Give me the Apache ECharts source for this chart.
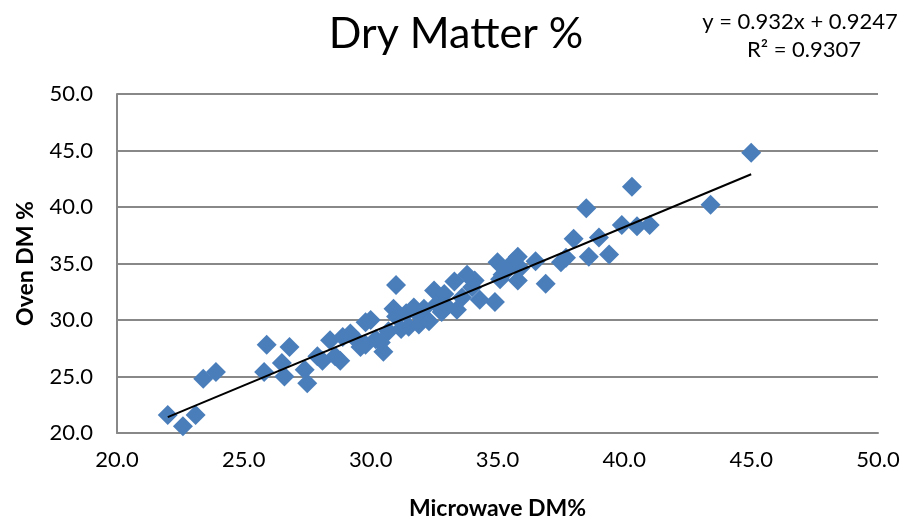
<!DOCTYPE html>
<html>
<head>
<meta charset="utf-8">
<script src="https://cdn.jsdelivr.net/npm/echarts@6/dist/echarts.min.js"></script>
<style>
html,body{margin:0;padding:0;background:#fff;}
#c{width:908px;height:526px;}
</style>
</head>
<body>
<div id="c"></div>
<script>
var microwaveDM = [22.0,22.6,23.1,23.4,23.9,25.8,25.9,26.5,26.6,26.8,27.4,27.5,27.9,28.1,28.4,28.6,28.8,28.9,29.2,29.5,29.6,29.8,29.8,30.0,30.2,30.4,30.5,30.7,30.9,31.0,31.0,31.2,31.4,31.5,31.7,31.9,32.0,32.1,32.3,32.5,32.6,32.8,32.9,33.0,33.3,33.4,33.6,33.8,34.0,34.1,34.3,34.9,35.0,35.1,35.2,35.5,35.6,35.8,35.8,35.9,36.5,36.9,37.5,37.7,38.0,38.5,38.6,39.0,39.4,39.9,40.3,40.5,41.0,43.4,45.0];
var ovenDM     = [21.6,20.6,21.6,24.8,25.4,25.4,27.8,26.2,25.0,27.6,25.6,24.4,26.8,26.4,28.2,26.8,26.4,28.5,28.8,28.1,27.6,27.8,29.8,30.0,28.3,28.0,27.2,29.0,31.0,33.1,30.3,29.2,30.6,29.4,31.1,29.6,30.2,31.0,29.9,32.6,31.4,30.7,32.3,31.2,33.4,30.9,32.0,34.0,32.9,33.5,31.8,31.6,35.1,33.6,34.0,34.8,35.1,35.6,33.5,34.6,35.2,33.2,35.1,35.5,37.2,39.9,35.6,37.3,35.8,38.4,41.8,38.3,38.4,40.2,44.8];
var trendX = [22.0, 45.0];
var trendY = [21.4, 42.9];
var xTicks = [20, 50, 5];
var yTicks = [20, 50, 5];

var pts = microwaveDM.map(function(x,i){return [x, ovenDM[i]];});
var trend = trendX.map(function(x,i){return [x, trendY[i]];});
var font = 'Lato, "Open Sans", sans-serif';

var chart = echarts.init(document.getElementById('c'), null, {renderer:'canvas'});
chart.setOption({
  animation:false,
  backgroundColor:'#fff',
  title:[
    {text:'Dry Matter %', left:451, top:8, textAlign:'center',
     textStyle:{fontFamily:font, fontSize:43, fontWeight:'normal', color:'#000'}},
    {text:'y = 0.932x + 0.9247', left:795, top:6, textAlign:'center',
     textStyle:{fontFamily:font, fontSize:22, fontWeight:'normal', color:'#000'}},
    {text:'R² = 0.9307', left:799, top:34, textAlign:'center',
     textStyle:{fontFamily:font, fontSize:22, fontWeight:'normal', color:'#000'}}
  ],
  grid:{left:117, right:30, top:94, bottom:93},
  xAxis:{
    type:'value', min:xTicks[0], max:xTicks[1], interval:xTicks[2],
    name:'Microwave DM%', nameLocation:'middle', nameGap:64,
    nameTextStyle:{fontFamily:font, fontSize:23, fontWeight:'bold', color:'#000'},
    axisLine:{show:true, lineStyle:{color:'#888', width:2}},
    axisTick:{show:false},
    splitLine:{show:false},
    axisLabel:{fontFamily:font, fontSize:22, color:'#000', margin:16,
      formatter:function(v){return v.toFixed(1);}}
  },
  yAxis:{
    type:'value', min:yTicks[0], max:yTicks[1], interval:yTicks[2],
    name:'Oven DM %', nameLocation:'middle', nameGap:80,
    nameTextStyle:{fontFamily:font, fontSize:23, fontWeight:'bold', color:'#000'},
    axisLine:{show:true, lineStyle:{color:'#888', width:2}},
    axisTick:{show:false},
    splitLine:{show:true, lineStyle:{color:'#888', width:2}},
    axisLabel:{fontFamily:font, fontSize:22, color:'#000', margin:24,
      formatter:function(v){return v.toFixed(1);}}
  },
  series:[
    {type:'scatter', data:pts, symbol:'diamond', symbolSize:20,
     itemStyle:{color:'#4a7ebb', opacity:1}, z:2},
    {type:'line', data:trend, symbol:'none', z:3,
     lineStyle:{color:'#000', width:2}}
  ]
});
</script>
</body>
</html>
